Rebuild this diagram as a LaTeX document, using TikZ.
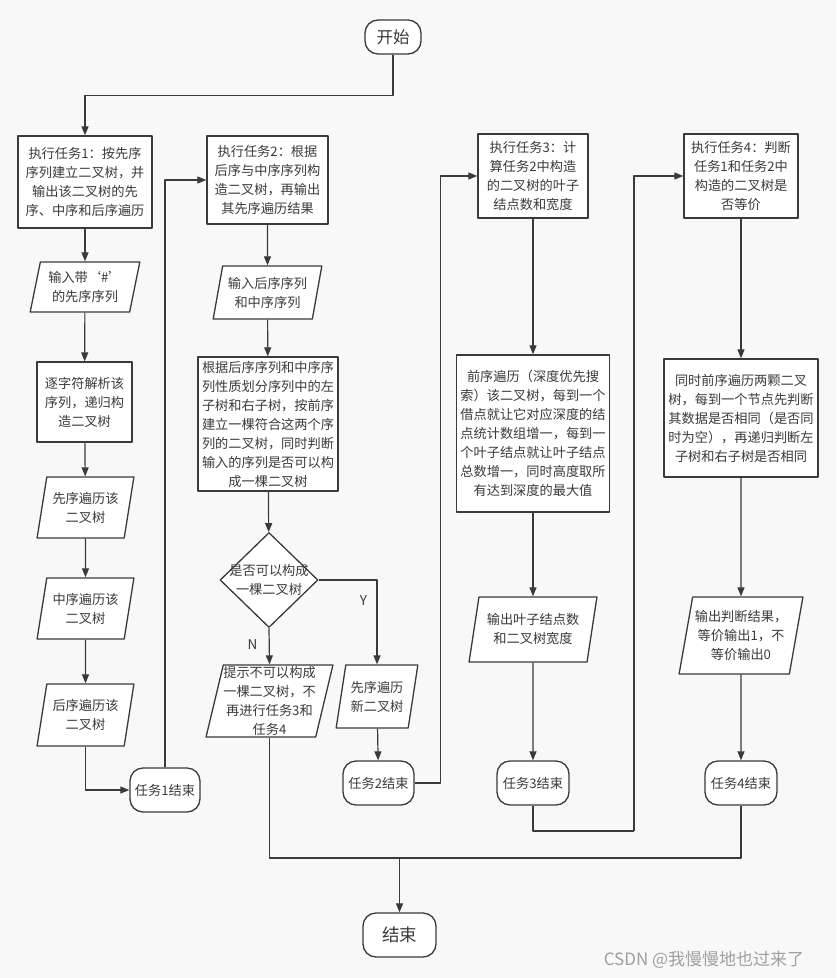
\documentclass[tikz,border=0pt]{standalone}
\usepackage{fontspec}
\setmainfont{Noto Sans CJK SC}
\usetikzlibrary{shapes.geometric,arrows.meta}
\definecolor{ink}{HTML}{3A3A3A}
\definecolor{paper}{HTML}{F8F8F8}
\tikzset{
  base/.style={draw=ink, line width=1.3pt, fill=white, text=ink, align=center, inner sep=2pt,
    font=\fontsize{13.2pt}{19pt}\selectfont},
  term/.style={base, rectangle, rounded corners=13pt},
  proc/.style={base, rectangle},
  io/.style={base, trapezium, trapezium left angle=76, trapezium right angle=104, trapezium stretches=true},
  decide/.style={base, diamond, inner sep=-9pt},
  arr/.style={draw=ink, line width=1.2pt, -{Triangle[length=9pt,width=7pt]}},
  line/.style={draw=ink, line width=1.2pt}
}
\begin{document}
\begin{tikzpicture}[x=1pt, y=-1pt, line join=round]
  \fill[paper] (0,0) rectangle (836,978);
  \useasboundingbox (0,0) rectangle (836,978);

  % start and the four tasks
  \node[term, minimum width=56, minimum height=34, font=\fontsize{16.5pt}{18pt}\selectfont] (start) at (393,37) {开始};
  \node[proc, minimum width=134, minimum height=92] (task1) at (85,182) {执行任务1：按先序\\序列建立二叉树，并\\输出该二叉树的先\\序、中序和后序遍历};
  \node[proc, minimum width=121, minimum height=88] (task2) at (267.5,180) {执行任务2：根据\\后序与中序序列构\\造二叉树，再输出\\其先序遍历结果};
  \node[proc, minimum width=110, minimum height=84] (task3) at (533,176) {执行任务3：计\\算任务2中构造\\的二叉树的叶子\\结点数和宽度};
  \node[proc, minimum width=114, minimum height=84] (task4) at (741,176) {执行任务4：判断\\任务1和任务2中\\构造的二叉树是\\否等价};

  % task 1
  \node[io, minimum width=110, minimum height=50] (in1) at (85,287) {输入带‘\#’\\的先序序列};
  \node[proc, minimum width=95, minimum height=80] (parse) at (84.5,402) {逐字符解析该\\序列，递归构\\造二叉树};
  \node[io, minimum width=97, minimum height=61] (pre) at (85.5,507.5) {先序遍历该\\二叉树};
  \node[io, minimum width=97, minimum height=61] (mid) at (85.5,608.5) {中序遍历该\\二叉树};
  \node[io, minimum width=97, minimum height=62] (post) at (85.5,715) {后序遍历该\\二叉树};
  \node[term, minimum width=70, minimum height=44] (end1) at (165,790) {任务1结束};

  % task 2
  \node[io, minimum width=109, minimum height=53] (in2) at (267.5,292.5) {输入后序序列\\和中序序列};
  \node[proc, minimum width=140, minimum height=134] (build) at (268,424) {根据后序序列和中序序\\列性质划分序列中的左\\子树和右子树，按前序\\建立一棵符合这两个序\\列的二叉树，同时判断\\输入的序列是否可以构\\成一棵二叉树};
  \node[decide, minimum width=98, minimum height=95] (dec) at (269,580) {是否可以构成\\一棵二叉树};
  \node[io, minimum width=127, minimum height=72, inner sep=0pt] (warn) at (269.5,701) {提示不可以构成\\一棵二叉树，不\\再进行任务3和\\任务4};
  \node[io, minimum width=82, minimum height=63] (pre2) at (377,696.5) {先序遍历\\新二叉树};
  \node[term, minimum width=71, minimum height=44] (end2) at (378.5,783) {任务2结束};

  % task 3
  \node[proc, minimum width=153, minimum height=157] (leaf) at (533,433.5) {前序遍历（深度优先搜\\索）该二叉树，每到一个\\借点就让它对应深度的结\\点统计数组增一，每到一\\个叶子结点就让叶子结点\\总数增一，同时高度取所\\有达到深度的最大值};
  \node[io, minimum width=128, minimum height=65] (outleaf) at (533,629.5) {输出叶子结点数\\和二叉树宽度};
  \node[term, minimum width=72, minimum height=44] (end3) at (533,783) {任务3结束};

  % task 4
  \node[proc, minimum width=154, minimum height=118] (same) at (741,418) {同时前序遍历两颗二叉\\树，每到一个节点先判断\\其数据是否相同（是否同\\时为空），再递归判断左\\子树和右子树是否相同};
  \node[io, minimum width=124, minimum height=77] (outsame) at (741,635.5) {输出判断结果，\\等价输出1，不\\等价输出0};
  \node[term, minimum width=72, minimum height=44] (end4) at (741,783) {任务4结束};

  \node[term, minimum width=73, minimum height=44, font=\fontsize{17.5pt}{19pt}\selectfont] (finish) at (399.5,935) {结束};

  \coordinate (j3) at (634,831);
  \coordinate (meet) at (399.5,858);

  % connectors
  \draw[arr] (start.south) -- ++(0,41) -| (task1.north);
  \draw[arr] (task1) -- (in1);
  \draw[arr] (in1) -- (parse);
  \draw[arr] (parse) -- (pre);
  \draw[arr] (pre) -- (mid);
  \draw[arr] (mid) -- (post);
  \draw[arr] (post.south) |- (end1.west);
  \draw[arr] (end1.north) |- (task2.west);

  \draw[arr] (task2) -- (in2);
  \draw[arr] (in2) -- (build);
  \draw[arr] (build) -- (dec);
  \draw[arr] (dec.east) -| node[pos=0.62, left=6pt, text=ink, font=\fontsize{13.5pt}{15pt}\selectfont] {Y} (pre2.north);
  \draw[arr] (dec.south) -- node[pos=0.45, left=8pt, text=ink, font=\fontsize{13.5pt}{15pt}\selectfont] {N} (warn.north);
  \draw[arr] (pre2) -- (end2);
  \draw[arr] (end2.east) -- ++(26,0) |- (task3.west);

  \draw[arr] (task3) -- (leaf);
  \draw[arr] (leaf) -- (outleaf);
  \draw[arr] (outleaf) -- (end3);
  \draw[line] (end3.south) |- (j3);
  \draw[arr] (j3) |- (task4.west);

  \draw[arr] (task4) -- (same);
  \draw[arr] (same) -- (outsame);
  \draw[arr] (outsame) -- (end4);

  \draw[line] (warn.south) |- (meet);
  \draw[line] (end4.south) |- (meet);
  \draw[arr] (meet) -- (finish);

  \node[text=gray!75, font=\fontsize{17pt}{19pt}\selectfont] (mark) at (704,960) {CSDN @我慢慢地也过来了};
\end{tikzpicture}
\end{document}
